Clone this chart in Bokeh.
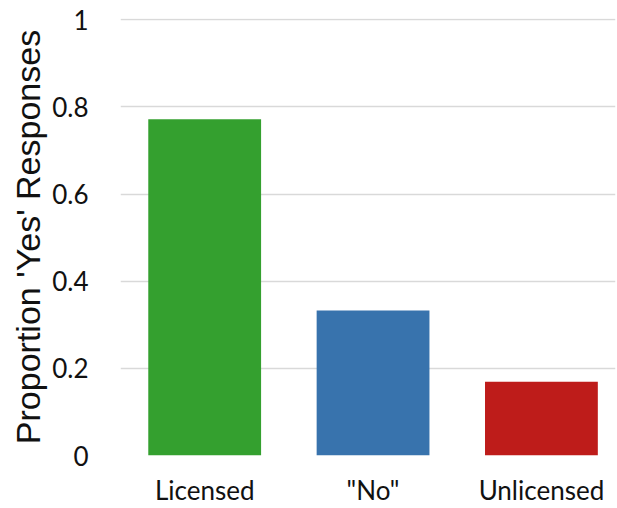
from bokeh.plotting import figure
from bokeh.models import Range1d, FixedTicker, ColumnDataSource
from bokeh.embed import file_html
from bokeh.resources import INLINE

categories = ["Licensed", "\"No\"", "Unlicensed"]
proportions = [0.772, 0.333, 0.169]
colors = ["#34a02f", "#3873ad", "#be1c1a"]
y_ticks = [0, 0.2, 0.4, 0.6, 0.8, 1]
y_tick_labels = ["0", "0.2", "0.4", "0.6", "0.8", "1"]

xs = list(range(len(categories)))
src = ColumnDataSource(dict(x=xs, top=proportions, color=colors))

p = figure(width=617, height=508, output_backend="svg", toolbar_location=None,
           x_range=Range1d(-0.5, 2.44), y_range=Range1d(0, 1.003),
           min_border_left=120, min_border_top=18, min_border_right=2, min_border_bottom=10)
p.outline_line_color = None
p.background_fill_color = "white"
p.border_fill_color = "white"

p.vbar(x="x", top="top", bottom=0, width=0.67, fill_color="color", line_color=None, source=src)

p.xgrid.grid_line_color = None
p.ygrid.grid_line_color = "#d9d9d9"
p.ygrid.grid_line_width = 1.5
p.ygrid.ticker = FixedTicker(ticks=y_ticks)

p.yaxis.ticker = FixedTicker(ticks=y_ticks)
p.yaxis.major_label_overrides = {t: l for t, l in zip(y_ticks, y_tick_labels)}
p.xaxis.ticker = FixedTicker(ticks=xs)
p.xaxis.major_label_overrides = {i: c for i, c in zip(xs, categories)}

for ax in (p.xaxis, p.yaxis):
    ax.axis_line_color = None
    ax.major_tick_line_color = None
    ax.minor_tick_line_color = None
    ax.major_label_text_font = "Lato"
    ax.major_label_text_font_size = "26px"
    ax.major_label_text_color = "#111111"

p.yaxis.major_label_standoff = 26
p.xaxis.major_label_standoff = 12
p.yaxis.axis_label = "Proportion 'Yes' Responses"
p.yaxis.axis_label_text_font = "Liberation Sans"
p.yaxis.axis_label_text_font_style = "normal"
p.yaxis.axis_label_text_font_size = "34px"
p.yaxis.axis_label_text_color = "#111111"
p.yaxis.axis_label_standoff = 2

open("out.html", "w").write(file_html(p, INLINE))
